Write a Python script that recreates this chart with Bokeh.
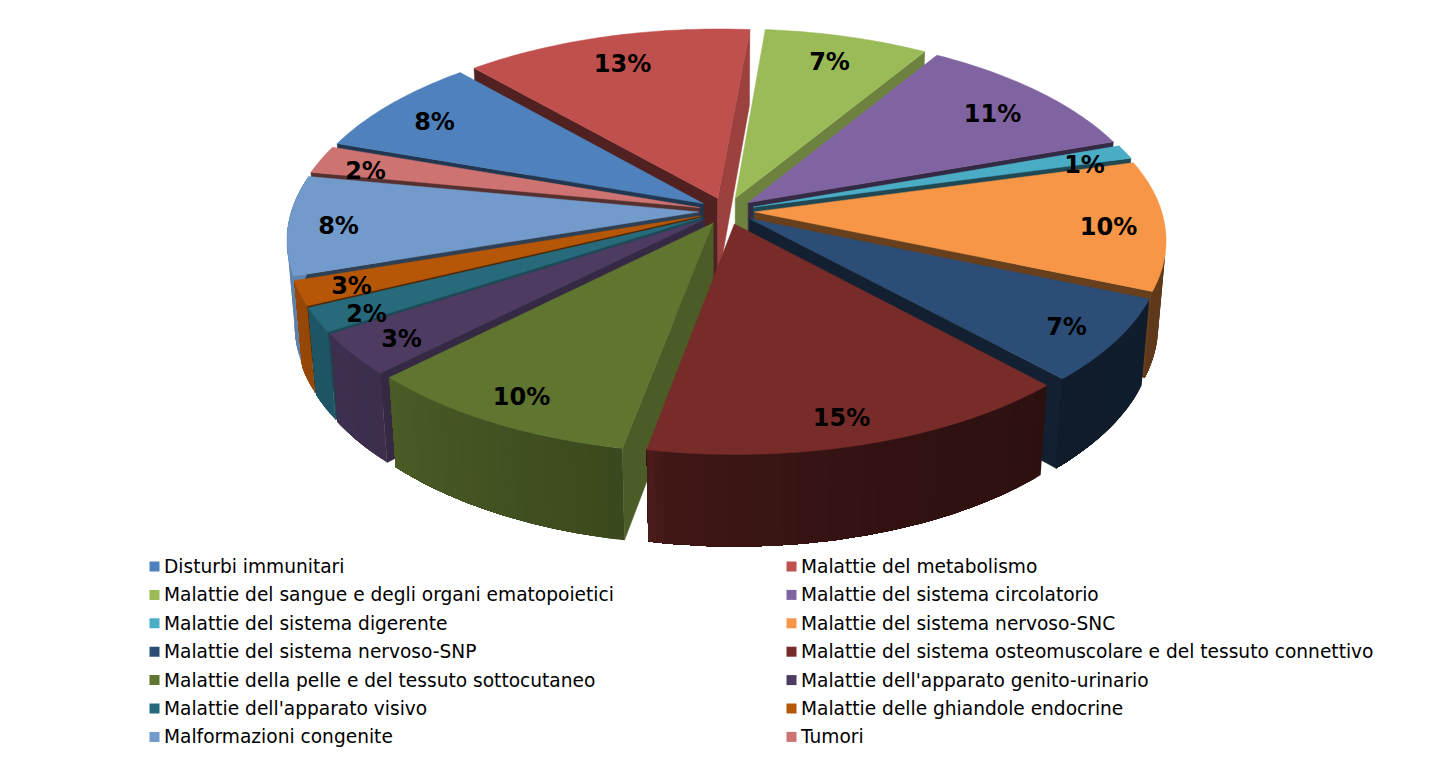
import math
import numpy as np
from bokeh.plotting import figure
from bokeh.models import ColumnDataSource, Range1d
from bokeh.core.properties import value
from bokeh.embed import file_html
from bokeh.resources import INLINE

categories = ["Disturbi immunitari", "Malattie del metabolismo",
              "Malattie del sangue e degli organi ematopoietici", "Malattie del sistema circolatorio",
              "Malattie del sistema digerente", "Malattie del sistema nervoso-SNC",
              "Malattie del sistema nervoso-SNP", "Malattie del sistema osteomuscolare e del tessuto connettivo",
              "Malattie della pelle e del tessuto sottocutaneo", "Malattie dell'apparato genito-urinario",
              "Malattie dell'apparato visivo", "Malattie delle ghiandole endocrine",
              "Malformazioni congenite", "Tumori"]
shares = [8.14, 13.0, 7.42, 10.86, 1.14, 10.49, 6.73, 14.97, 9.58, 3.39, 1.95, 1.99, 8.06, 2.28]
share_labels = ["8%", "13%", "7%", "11%", "1%", "10%", "7%", "15%", "10%", "3%", "2%", "3%", "8%", "2%"]
colors = ["#4F81BD", "#C0504D", "#9BBB59", "#8064A2", "#4BACC6", "#F79646", "#2C4D75",
          "#772C2A", "#5F7530", "#4D3B62", "#276A7C", "#B65708", "#729ACA", "#CD7371"]

label_x = [434, 622, 829, 992, 1084, 1108, 1066, 841, 521, 401, 366, 351, 338, 365]
label_y = [121, 63, 61, 113, 164, 226, 326, 417, 396, 338, 313, 285, 225, 170]

CX, CY, R, EXPL, H = 726.0, 210.5, 407.0, 28.0, 96.5
TILT = math.radians(28.7)
DIST = 2640.0
START = -71.1
sin_t, cos_t = math.sin(TILT), math.cos(TILT)


def project(X, Y, depth):
    d = DIST - Y * cos_t + depth * sin_t
    s = DIST / d
    return CX + X * s, CY + (Y * sin_t + depth * cos_t) * s


def shade(hex_color, f):
    r, g, b = (int(hex_color[i:i + 2], 16) for i in (1, 3, 5))
    return "#%02x%02x%02x" % (int(r * f), int(g * f), int(b * f))


def area(pts):
    return sum(pts[i][0] * pts[(i + 1) % len(pts)][1] - pts[(i + 1) % len(pts)][0] * pts[i][1]
               for i in range(len(pts))) / 2


def rim_factor(a):
    a = a % 360
    return float(np.interp(a, [90, 135, 160, 188, 190, 224, 260, 280], [.40, .37, .42, .53, .62, .78, .85, .9]))


def side_factor(n):
    n = n % 360
    if n < 150:
        return float(np.interp(n, [95, 120], [.82, .70]))
    return .42


total = sum(shares)
bounds = [START + 360 * sum(shares[:i]) / total for i in range(len(shares) + 1)]
mids = [(bounds[i] + bounds[i + 1]) / 2 for i in range(len(shares))]
order = sorted(range(len(shares)), key=lambda i: -math.cos(math.radians(mids[i])))

xs, ys, fills, line_alphas = [], [], [], []


def add(pts, col, stroke=1.0):
    xs.append([p[0] for p in pts])
    ys.append([p[1] for p in pts])
    fills.append(col)
    line_alphas.append(stroke)


for i in order:
    a0, a1, m = bounds[i], bounds[i + 1], math.radians(mids[i])
    ox, oy = EXPL * math.sin(m), -EXPL * math.cos(m)
    col = colors[i]
    pt = lambda a, r, z: project(ox + r * math.sin(math.radians(a)), oy - r * math.cos(math.radians(a)), z)
    q0 = [pt(a0, 0, 0), pt(a0, R, 0), pt(a0, R, H), pt(a0, 0, H)]
    q1 = [pt(a1, 0, 0), pt(a1, R, 0), pt(a1, R, H), pt(a1, 0, H)]
    if area(q0) < 0:
        add(q0, shade(col, side_factor(a0 - 90)))
    if area(q1) > 0:
        add(q1, shade(col, side_factor(a1 + 90)))
    fine = max(8, int((a1 - a0) / 1.0))
    steps = [a0 + (a1 - a0) * k / fine for k in range(fine + 1)]
    # each band of the curved wall runs on to the wall's end, the next one paints over it: no seams
    for k in range(fine):
        q_small = [pt(steps[k], R, 0), pt(steps[k + 1], R, 0), pt(steps[k + 1], R, H), pt(steps[k], R, H)]
        if area(q_small) < 0:
            seg = steps[k:]
            q = [pt(s, R, 0) for s in seg] + [pt(s, R, H) for s in reversed(seg)]
            add(q, shade(col, rim_factor((steps[k] + steps[k + 1]) / 2)), 0.0)
    add([pt(a0, 0, 0)] + [pt(s, R, 0) for s in steps], col)

p = figure(width=1416, height=748, x_range=Range1d(0, 1416), y_range=Range1d(748, 0),
           output_backend="svg", toolbar_location=None, min_border=0)
p.axis.visible = False
p.grid.visible = False
p.outline_line_color = None
p.background_fill_color = "white"

p.patches("xs", "ys", source=ColumnDataSource(dict(xs=xs, ys=ys, c=fills, la=line_alphas)),
          fill_color="c", line_color="c", line_alpha="la", line_width=0.5)

p.text(label_x, label_y, text=share_labels, text_font=value("DejaVu Sans"), text_font_style="bold",
       text_font_size="24px", text_color="#000000", text_align="center", text_baseline="middle")

rows = len(categories) // 2
row_y = [566 + 28.4 * k for k in range(rows)]
lx = [154 if i % 2 == 0 else 791 for i in range(len(categories))]
ly = [row_y[i // 2] for i in range(len(categories))]
p.scatter(lx, ly, marker="square", size=10, fill_color=colors, line_color=None)
p.text([x + 9.5 for x in lx], ly, text=categories, text_font=value("DejaVu Sans"), text_font_size="18.6px",
       text_color="#000000", text_align="left", text_baseline="middle")

open("out.html", "w").write(file_html(p, INLINE))
